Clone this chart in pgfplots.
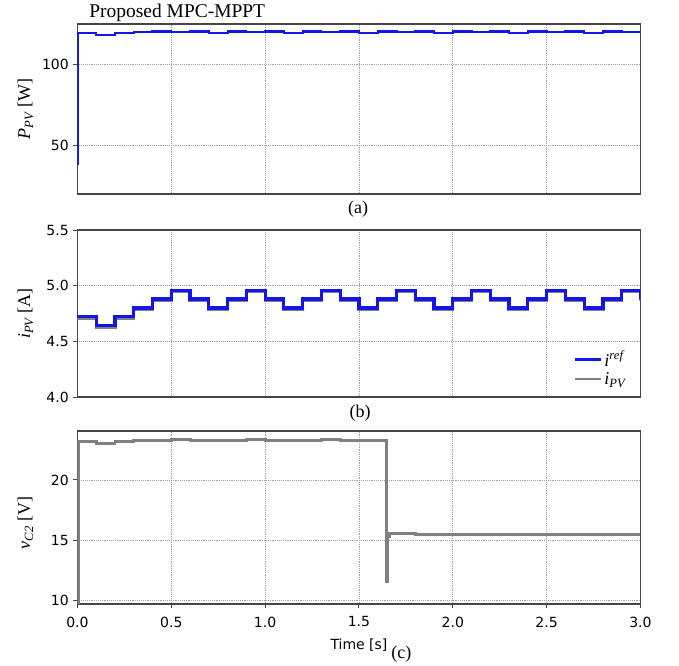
\documentclass[border=0pt]{standalone}
\usepackage{fontspec}
\setmainfont{Liberation Serif}
\newfontfamily\tickfont{DejaVu Sans}
\usepackage{pgfplots}
\pgfplotsset{compat=1.18}
\definecolor{pvblue}{RGB}{20,20,235}
\definecolor{pvgray}{RGB}{128,128,128}
\definecolor{frame}{RGB}{70,70,70}
\pgfplotsset{
  panel/.style={
    scale only axis, width=422.25pt,
    xmin=0, xmax=3,
    xtick={0,0.5,1,1.5,2,2.5,3},
    grid=major,
    major grid style={densely dotted, draw=gray!75, line width=0.6pt},
    axis line style={draw=frame, line width=0.9pt},
    tick align=outside, major tick length=3pt,
    tick style={draw=frame, line width=0.7pt},
    xtick pos=bottom, ytick pos=left,
    /pgf/number format/assume math mode=true,
    tick label style={font=\tickfont\fontsize{10.5}{12}\selectfont, text=black},
    ylabel style={at={(axis description cs:0,0.5)}, anchor=center, yshift=39pt, font=\fontsize{13.5}{15}\selectfont},
    every axis plot/.append style={const plot mark left, mark=none},
  },
}
\begin{document}
\begin{tikzpicture}
\path[use as bounding box] (0pt,0pt) rectangle (509.25pt,-499.5pt);
\node[anchor=west, font=\fontsize{14.6}{16}\selectfont] at (63.5pt,-9.5pt) {Proposed MPC-MPPT};

% (a)
\begin{axis}[panel, at={(58.1pt,-18pt)}, anchor=north west, height=127.5pt,
  ymin=20, ymax=125, ytick={50,100}, xticklabels={}, xtick style={draw=none},
  ylabel={\itshape P\textsubscript{\itshape PV}\upshape\ [W]}]
\addplot[pvblue, line width=1.6pt] coordinates {
(0.004,38) (0.004,119.3) (0.1,118.1) (0.2,119.3) (0.3,120.3) (0.4,120.4) (0.5,120.3)
(0.6,120.4) (0.7,119.6) (0.8,120.4) (0.9,120.3) (1.0,120.4) (1.1,119.6)
(1.2,120.4) (1.3,120.3) (1.4,120.4) (1.5,119.6) (1.6,120.4) (1.7,120.3)
(1.8,120.4) (1.9,119.6) (2.0,120.4) (2.1,120.3) (2.2,120.4) (2.3,119.6)
(2.4,120.4) (2.5,120.3) (2.6,120.4) (2.7,119.6) (2.8,120.4) (2.9,120.3) (3.0,120.4)};
\end{axis}
\node[font=\fontsize{13.5}{15}\selectfont] at (268.5pt,-156.75pt) {(a)};

% (b)
\begin{axis}[panel, at={(58.1pt,-172.5pt)}, anchor=north west, height=125.25pt,
  ymin=4.0, ymax=5.5, ytick={4.0,4.5,5.0,5.5}, xticklabels={}, xtick style={draw=none},
  yticklabel style={/pgf/number format/.cd, fixed, fixed zerofill, precision=1},
  ylabel={\itshape i\textsubscript{\itshape PV}\upshape\ [A]},
  reverse legend,
  legend style={draw=none, fill=none, at={(0.875,0.03)}, anchor=south west,
    font=\fontsize{13.5}{15}\selectfont, row sep=-1pt},
  legend cell align=left,
  legend image code/.code={\draw[#1, line width=1.6pt] (0pt,0pt) -- (19pt,0pt);}]
\addplot[pvgray, line width=2.4pt] coordinates {
(0,4.705) (0.1,4.625) (0.2,4.705) (0.3,4.785) (0.4,4.865) (0.5,4.945)
(0.6,4.865) (0.7,4.785) (0.8,4.865) (0.9,4.945) (1.0,4.865) (1.1,4.785)
(1.2,4.865) (1.3,4.945) (1.4,4.865) (1.5,4.785) (1.6,4.865) (1.7,4.945)
(1.8,4.865) (1.9,4.785) (2.0,4.865) (2.1,4.945) (2.2,4.865) (2.3,4.785)
(2.4,4.865) (2.5,4.945) (2.6,4.865) (2.7,4.785) (2.8,4.865) (2.9,4.945) (3.0,4.865)};
\addplot[pvblue, line width=2.4pt] coordinates {
(0,4.72) (0.1,4.64) (0.2,4.72) (0.3,4.80) (0.4,4.88) (0.5,4.96)
(0.6,4.88) (0.7,4.80) (0.8,4.88) (0.9,4.96) (1.0,4.88) (1.1,4.80)
(1.2,4.88) (1.3,4.96) (1.4,4.88) (1.5,4.80) (1.6,4.88) (1.7,4.96)
(1.8,4.88) (1.9,4.80) (2.0,4.88) (2.1,4.96) (2.2,4.88) (2.3,4.80)
(2.4,4.88) (2.5,4.96) (2.6,4.88) (2.7,4.80) (2.8,4.88) (2.9,4.96) (3.0,4.88)};
\legend{\itshape i\textsubscript{\itshape PV}, \itshape i\textsuperscript{\itshape ref}}
\end{axis}
\node[font=\fontsize{13.5}{15}\selectfont] at (270pt,-309.75pt) {(b)};

% (c)
\begin{axis}[panel, at={(58.1pt,-323.25pt)}, anchor=north west, height=129.75pt,
  ymin=9.73, ymax=24.05, ytick={10,15,20},
  xticklabel style={yshift=-3pt, /pgf/number format/.cd, fixed, fixed zerofill, precision=1},
  xlabel={Time [s]},
  xlabel style={at={(axis description cs:0.5,0)}, anchor=center, yshift=-31pt, font=\tickfont\fontsize{10.5}{12}\selectfont},
  ylabel={\itshape v\textsubscript{\itshape C2}\upshape\ [V]},
  ylabel style={at={(axis description cs:0,0.47)}}]
\addplot[pvgray, line width=2.2pt] coordinates {
(0.004,9.73) (0.004,23.15) (0.1,23.02) (0.2,23.15) (0.3,23.27) (0.4,23.3) (0.5,23.32)
(0.6,23.3) (0.7,23.25) (0.8,23.3) (0.9,23.32) (1.0,23.3) (1.1,23.25)
(1.2,23.3) (1.3,23.32) (1.4,23.3) (1.5,23.25) (1.6,23.3)
(1.648,11.6) (1.653,15.3) (1.665,15.55) (1.8,15.52) (1.9,15.47) (2.0,15.52)
(2.1,15.52) (2.2,15.5) (2.3,15.45) (2.4,15.5) (2.5,15.52) (2.6,15.5)
(2.7,15.45) (2.8,15.5) (2.9,15.5) (3.0,15.5)};
\end{axis}
\node[font=\fontsize{13.5}{15}\selectfont] at (301pt,-491pt) {(c)};
\end{tikzpicture}
\end{document}
